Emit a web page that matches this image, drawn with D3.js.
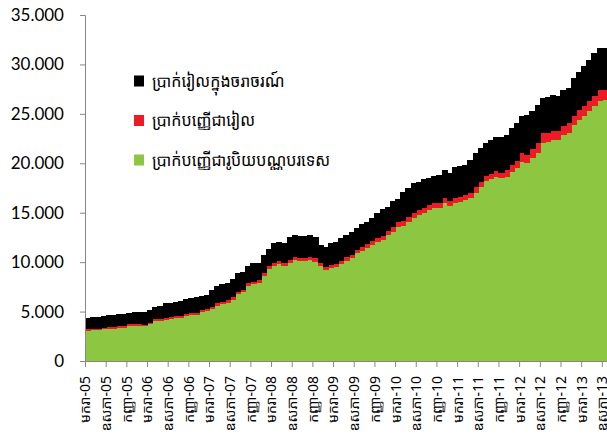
<!DOCTYPE html>
<html>
<head>
<meta charset="utf-8">
<script src="https://cdn.jsdelivr.net/npm/d3@7"></script>
<style>
  body { margin: 0; background: #fff; }
  svg { display: block; }
</style>
</head>
<body>
<div id="chart"></div>
<script>
// monthly stock, Jan 2005 .. May 2013 (101 months)
var foreignDeposits = [
  3060,3090,3120,3190,3220,3260,3320,3320,3520,3530,3530,3500,
  3700,4020,4050,4190,4250,4320,4350,4580,4650,4680,4920,5060,
  5230,5600,5780,5880,6200,6770,6940,7600,7760,7900,8600,9300,
  9610,9810,9610,9880,10220,10120,10120,10220,10050,9610,9210,9380,
  9480,9780,10150,10390,10890,11160,11400,11730,12070,12240,12750,13080,
  13590,13680,14080,14490,14770,15000,15280,15450,15450,16020,15680,16020,
  16120,16290,16460,17000,17630,18200,18430,18650,18480,18650,19150,19490,
  20160,19990,20500,21070,22080,22190,22360,22360,22860,23100,23870,24380,
  24780,25320,25800,26330,26400
];
var rielDeposits = [
  160,160,165,165,170,170,170,175,175,175,180,180,
  185,190,190,195,195,200,200,205,210,210,215,220,
  225,230,235,240,245,250,255,260,265,270,275,280,
  290,295,300,305,310,315,320,320,325,320,315,320,
  330,340,350,360,370,380,390,400,410,420,430,440,
  450,460,470,480,480,490,490,500,500,510,500,510,
  520,530,560,600,520,510,510,520,560,640,670,720,
  840,840,940,1000,940,880,900,920,940,950,960,980,
  1000,1010,1020,1040,1050
];
var currency = [
  1160,1160,1195,1195,1230,1220,1230,1225,1195,1215,1210,1280,
  1275,1220,1360,1445,1455,1450,1520,1455,1520,1620,1445,1430,
  1725,1760,1775,1810,1815,1920,1775,1790,1855,1780,1845,1720,
  2000,1965,2060,2325,2220,2215,2210,2160,2135,1800,1975,2200,
  2220,2290,2250,2330,2160,2320,2300,2300,2460,2720,2370,2670,
  2320,2990,2920,3010,2890,2890,2770,2750,2900,2790,2870,3060,
  3090,3010,3310,3410,3360,3310,3420,3460,3590,3570,3780,3900,
  3780,4060,3850,3830,3550,3670,3650,3560,3610,3530,3770,3910,
  4060,4120,4310,4260,4180
];
var tickLabels = [
  "មករា-05","ឧសភា-05","កញ្ញា-05","មករា-06","ឧសភា-06","កញ្ញា-06",
  "មករា-07","ឧសភា-07","កញ្ញា-07","មករា-08","ឧសភា-08","កញ្ញា-08",
  "មករា-09","ឧសភា-09","កញ្ញា-09","មករា-10","ឧសភា-10","កញ្ញា-10",
  "មករា-11","ឧសភា-11","កញ្ញា-11","មករា-12","ឧសភា-12","កញ្ញា-12",
  "មករា-13","ឧសភា-13"
];
var yTicks = [0,5000,10000,15000,20000,25000,30000,35000];
var seriesNames = ["ប្រាក់រៀលក្នុងចរាចរណ៍","ប្រាក់បញ្ញើជារៀល","ប្រាក់បញ្ញើជារូបិយបណ្ណបរទេស"];

var W = 607, H = 446;
var margin = {left: 85, right: 607, top: 15, bottom: 361};
var khmerFont = "'Noto Sans Khmer','Khmer OS','Khmer OS System',sans-serif";

var rows = foreignDeposits.map(function(d, i) {
  return {i: i, foreign: d, riel: rielDeposits[i], currency: currency[i]};
});
var keys = ["foreign", "riel", "currency"];
var colors = {foreign: "#8dc641", riel: "#ed1c24", currency: "#000000"};

var svg = d3.select("#chart").append("svg")
    .attr("width", W)
    .attr("height", H);

var x = d3.scaleLinear().domain([0, rows.length]).range([margin.left, margin.right]);
var y = d3.scaleLinear().domain([0, 35000]).range([margin.bottom, margin.top]);

var stack = d3.stack().keys(keys)(rows);

//stacked monthly columns, no gap
svg.append("g")
    .attr("shape-rendering", "crispEdges")
  .selectAll("g")
  .data(stack)
  .enter().append("g")
    .attr("fill", function(d) { return colors[d.key]; })
  .selectAll("rect")
  .data(function(d) { return d; })
  .enter().append("rect")
    .attr("x", function(d) { return x(d.data.i); })
    .attr("width", function(d) { return x(d.data.i + 1) - x(d.data.i) + 1; })
    .attr("y", function(d) { return y(d[1]); })
    .attr("height", function(d) { return y(d[0]) - y(d[1]); });

// y axis
var loc = d3.formatLocale({decimal: ",", thousands: ".", grouping: [3], currency: ["", ""]});
var yAxis = svg.append("g")
    .attr("transform", "translate(" + margin.left + ",0)")
    .call(d3.axisLeft(y).tickValues(yTicks).tickSize(5).tickPadding(16).tickFormat(loc.format(",")));
yAxis.selectAll("text")
    .attr("font-family", "Lato, 'Open Sans', sans-serif")
    .attr("font-size", "17px")
    .attr("fill", "#000");

// x axis
var xAxis = svg.append("g")
    .attr("transform", "translate(0," + margin.bottom + ")")
    .call(d3.axisBottom(x).tickValues(d3.range(0, rows.length, 4)).tickSize(6)
      .tickFormat(function(d, i) { return tickLabels[i]; }));
xAxis.selectAll("text")
    .attr("transform", "rotate(-90)")
    .attr("x", -15)
    .attr("y", 0)
    .attr("dy", "0.35em")
    .attr("text-anchor", "end")
    .attr("font-family", khmerFont)
    .attr("font-size", "14px")
    .attr("fill", "#000");

svg.selectAll(".domain, .tick line").attr("stroke", "#868686");

// legend
var legendKeys = ["currency", "riel", "foreign"];
var legend = svg.append("g").selectAll("g")
  .data(legendKeys)
  .enter().append("g")
    .attr("transform", function(d, i) { return "translate(134," + (81 + i * 39.5) + ")"; });
legend.append("rect")
    .attr("x", 0).attr("y", -5.5)
    .attr("width", 10).attr("height", 11)
    .attr("fill", function(d) { return colors[d]; });
legend.append("text")
    .attr("x", 18)
    .attr("dy", "0.35em")
    .attr("font-family", khmerFont)
    .attr("font-size", "16px")
    .text(function(d, i) { return seriesNames[i]; });
</script>
</body>
</html>
